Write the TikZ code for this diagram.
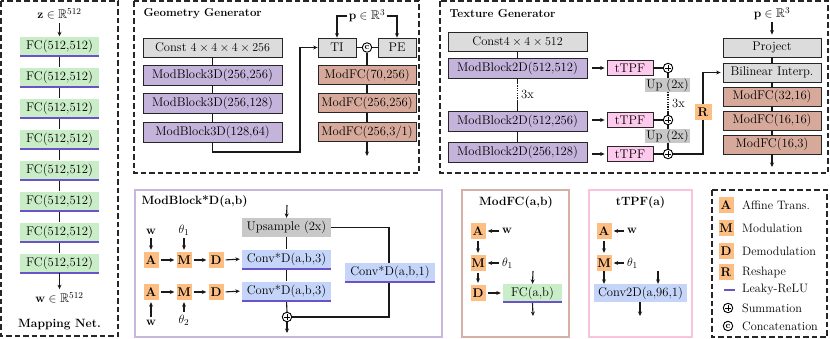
\documentclass[tikz,border=0pt]{standalone}
\usepackage{amssymb}
\usetikzlibrary{arrows.meta,calc}
\definecolor{fcc}{HTML}{C9EDC6}
\definecolor{reluc}{HTML}{6A52C8}
\definecolor{mbc}{HTML}{C4B3DA}
\definecolor{mfcc}{HTML}{D6A99B}
\definecolor{constc}{HTML}{DCDCDC}
\definecolor{upc}{HTML}{C8C8C8}
\definecolor{tpfc}{HTML}{FDC9EC}
\definecolor{convc}{HTML}{C5D5F9}
\definecolor{orc}{HTML}{FDBE84}
\definecolor{mbframe}{HTML}{C8B6DC}
\definecolor{mfcframe}{HTML}{D4B0A6}
\definecolor{tpfframe}{HTML}{F8C3DF}
\newcommand\fsz{\fontsize{12.6}{14}\selectfont}
\newcommand\fsl{\fontsize{12.2}{13}\selectfont}
\newcommand\fst{\fontsize{12}{14}\selectfont\bfseries}
\tikzset{
  every node/.style={font=\fsz},
  box/.style={draw=black!85, line width=0.8pt, minimum height=19pt, inner sep=0pt},
  constb/.style={box, fill=constc},
  mbb/.style={box, fill=mbc, minimum height=20pt},
  mfcb/.style={box, fill=mfcc},
  tpfb/.style={box, fill=tpfc, minimum width=46pt, minimum height=15pt},
  fcb/.style={fill=fcc, minimum height=19pt, inner sep=0pt},
  convb/.style={fill=convc, minimum height=19pt, inner sep=0pt},
  upb/.style={fill=upc, inner sep=0pt},
  lett/.style={fill=orc, minimum width=15pt, minimum height=16pt, inner sep=0pt, font=\fsz\bfseries},
  conn/.style={draw=black!90, line width=1.1pt},
  arr/.style={conn, -{Stealth[length=4.5pt,width=4pt]}},
  sarr/.style={arr, shorten <=2pt, shorten >=2pt},
  dframe/.style={draw=black!85, line width=1.3pt, dash pattern=on 5.5pt off 3pt},
  relu/.style={draw=reluc, line width=2.4pt},
  sumc/.style={circle, draw=black, line width=0.9pt, fill=white, minimum size=9.5pt, inner sep=0pt,
    path picture={\draw[line width=0.9pt] ([yshift=-1.5pt]path picture bounding box.north) -- ([yshift=1.5pt]path picture bounding box.south)
      ([xshift=1.5pt]path picture bounding box.west) -- ([xshift=-1.5pt]path picture bounding box.east);}},
  catc/.style={circle, draw=black, line width=0.9pt, fill=white, minimum size=9.5pt, inner sep=0pt, font=\fontsize{9}{9}\selectfont\bfseries},
  dots/.style={conn, dash pattern=on 1.2pt off 1.2pt},
}
\begin{document}
\begin{tikzpicture}[x=1pt,y=-1pt]
\useasboundingbox (0,0) rectangle (830,338);

% ---------------- Mapping network
\draw[dframe] (1,1) rectangle (118,336);
\node (zin) at (59.5,14) {$\mathbf{z}\in\mathbb{R}^{512}$};
\foreach \i in {0,...,7} {
  \node[fcb, minimum width=79pt] (fc\i) at (59.5,{46+31*\i}) {FC(512,512)};
}
\foreach \i [evaluate=\i as \j using int(\i+1)] in {0,...,6} {
  \draw[conn] (fc\i.south) -- (fc\j.north);
}
\foreach \i in {0,...,7} { \draw[relu] (fc\i.south west) -- (fc\i.south east); }
\draw[arr] (zin.south) -- (fc0.north);
\node (wout) at (59.5,298) {$\mathbf{w}\in\mathbb{R}^{512}$};
\draw[arr] (fc7.south) -- (wout.north);
\node[font=\fst] (mapt) at (59.5,325) {Mapping Net.};

% ---------------- Geometry generator
\draw[dframe] (134,1) rectangle (419,173);
\node[font=\fontsize{11.5}{13}\selectfont\bfseries, anchor=west] (geot) at (140,14) {Geometry Generator};
\node[constb, minimum width=139pt] (gc) at (212.5,47.5) {Const $4\times4\times4\times256$};
\node[mbb, minimum width=139pt] (g1) at (212.5,75) {ModBlock3D(256,256)};
\node[mbb, minimum width=139pt] (g2) at (212.5,103) {ModBlock3D(256,128)};
\node[mbb, minimum width=139pt] (g3) at (212.5,132) {ModBlock3D(128,64)};
\draw[conn] (gc.south) -- (g1.north);
\draw[conn] (g1.south) -- (g2.north);
\draw[conn] (g2.south) -- (g3.north);
\node[constb, minimum width=38pt] (ti) at (337,47.5) {TI};
\node[constb, minimum width=38pt] (pe) at (397,47.5) {PE};
\node[catc] (cat) at (367,47.5) {c};
\draw[conn] (ti.east) -- (cat.west);
\draw[conn] (cat.east) -- (pe.west);
\coordinate (gk) at (300,152);
\draw[arr] (g3.south) |- (gk) |- (ti.west);
\node[inner sep=1.5pt] (pg) at (367,16) {$\mathbf{p}\in\mathbb{R}^3$};
\draw[arr] (pg.west) -| (ti.north);
\draw[arr] (pg.east) -| (pe.north);
\node[mfcb, minimum width=98pt] (gf1) at (367,75) {ModFC(70,256)};
\node[mfcb, minimum width=98pt] (gf2) at (367,103) {ModFC(256,256)};
\node[mfcb, minimum width=98pt] (gf3) at (367,132) {ModFC(256,3/1)};
\draw[conn] (cat.south) -- (gf1.north);
\draw[conn] (gf1.south) -- (gf2.north);
\draw[conn] (gf2.south) -- (gf3.north);
\coordinate (gout) at (367,156);
\draw[arr] (gf3.south) -- (gout);

% ---------------- Texture generator
\draw[dframe] (440,1) rectangle (828,173);
\node[font=\fontsize{11.5}{13}\selectfont\bfseries, anchor=west] (text) at (446,14) {Texture Generator};
\node[constb, minimum width=139pt] (tc) at (517.5,42) {Const$4\times4\times512$};
\node[mbb, minimum width=139pt] (t1) at (517.5,68) {ModBlock2D(512,512)};
\node[mbb, minimum width=139pt] (t2) at (517.5,121) {ModBlock2D(512,256)};
\node[mbb, minimum width=139pt] (t3) at (517.5,152) {ModBlock2D(256,128)};
\draw[conn] (tc.south) -- (t1.north);
\coordinate (ta) at (517.5,83);
\coordinate (tb) at (517.5,101);
\draw[conn] (t1.south) -- (ta);
\draw[dots] (ta) -- (tb);
\draw[conn] (tb) -- (t2.north);
\node[anchor=west, inner sep=1pt] (tx3) at (520,94) {3x};
\draw[conn] (t2.south) -- (t3.north);

\node[tpfb] (p1) at (630,68) {tTPF};
\node[tpfb] (p2) at (630,120) {tTPF};
\node[tpfb] (p3) at (630,154) {tTPF};
\draw[arr] ($(t1.east)+(5,0)$) -- ($(p1.west)+(-2,0)$);
\draw[arr] ($(t2.east)+(5,-1)$) -- ($(p2.west)+(-2,0)$);
\draw[arr] ($(t3.east)+(5,2)$) -- ($(p3.west)+(-2,0)$);
\node[sumc] (s1) at (668,68) {};
\node[sumc] (s2) at (668,120) {};
\node[sumc] (s3) at (668,154) {};
\draw[conn] (p1.east) -- (s1.west);
\draw[conn] (p2.east) -- (s2.west);
\draw[conn] (p3.east) -- (s3.west);
\coordinate (ua) at (668,92);
\coordinate (ub) at (668,111);
\draw[conn] (s1.south) -- (ua);
\draw[dots] (ua) -- (ub);
\draw[conn] (ub) -- (s2.north);
\draw[conn] (s2.south) -- (s3.north);
\node[upb, minimum width=45pt, minimum height=14pt] (u1) at (667.5,85) {Up (2x)};
\node[upb, minimum width=45pt, minimum height=14pt] (u2) at (667.5,136) {Up (2x)};
\node[anchor=west, inner sep=1pt] (ux3) at (671,103) {3x};

\node[constb, minimum width=98pt] (proj) at (772,47.5) {Project};
\node[constb, minimum width=98pt] (bil) at (772,72.5) {Bilinear Interp.};
\node[mfcb, minimum width=98pt] (tf1) at (772,96.5) {ModFC(32,16)};
\node[mfcb, minimum width=98pt] (tf2) at (772,120.5) {ModFC(16,16)};
\node[mfcb, minimum width=98pt] (tf3) at (772,144.5) {ModFC(16,3)};
\draw[conn] (proj.south) -- (bil.north);
\draw[conn] (bil.south) -- (tf1.north);
\draw[conn] (tf1.south) -- (tf2.north);
\draw[conn] (tf2.south) -- (tf3.north);
\coordinate (tout) at (772,167);
\draw[arr] (tf3.south) -- (tout);
\node[inner sep=1.5pt] (pt) at (772,14) {$\mathbf{p}\in\mathbb{R}^3$};
\draw[arr] (pt.south) -- ($(proj.north)+(0,-3)$);
\coordinate (rt) at (703,72.5);
\draw[arr] (s3.east) -| (rt) -- ($(bil.west)+(-2,0)$);
\node[lett, minimum width=17pt] (rbox) at (703,112) {R};

% ---------------- ModBlock*D detail
\draw[draw=mbframe, line width=1.3pt] (135,190) rectangle (442,337);
\node[font=\fst, anchor=west] (mbt) at (138,202) {ModBlock*D(a,b)};
\node[upb, minimum width=89pt, minimum height=19pt] (ups) at (286.5,227.5) {Upsample (2x)};
\node[convb, minimum width=89pt] (cv1) at (286.5,259) {Conv*D(a,b,3)};
\node[convb, minimum width=89pt] (cv2) at (286.5,291) {Conv*D(a,b,3)};
\node[sumc] (bs) at (287,317) {};
\coordinate (bin) at (287,205);
\coordinate (bout) at (287,333);
\coordinate (sk) at (389,227.5);
\draw[arr] (bin) -- (ups.north);
\draw[conn] (ups.south) -- (cv1.north);
\draw[conn] (cv1.south) -- (cv2.north);
\draw[conn] (cv2.south) -- (bs.north);
\draw[arr] (bs.south) -- (bout);
\draw[conn] (ups.east) -- (sk) |- (bs.east);
\node[convb, minimum width=90pt] (cv3) at (390,272) {Conv*D(a,b,1)};
\draw[relu] (cv1.south west) -- (cv1.south east);
\draw[relu] (cv2.south west) -- (cv2.south east);
\draw[relu] (cv3.south west) -- (cv3.south east);
\node[lett] (a1) at (151,260) {A};
\node[lett] (m1) at (184,260) {M};
\node[lett] (d1) at (216,260) {D};
\node[lett] (a2) at (151,292) {A};
\node[lett] (m2) at (184,292) {M};
\node[lett] (d2) at (216,292) {D};
\draw[sarr] (a1.east) -- (m1.west);
\draw[sarr] (m1.east) -- (d1.west);
\draw[sarr] (d1.east) -- (cv1.west);
\draw[sarr] (a2.east) -- (m2.west);
\draw[sarr] (m2.east) -- (d2.west);
\draw[sarr] (d2.east) -- (cv2.west);
\node[inner sep=1pt] (w1) at (151,232) {$\mathbf{w}$};
\node[inner sep=1pt] (th1) at (184,230) {$\theta_1$};
\node[inner sep=1pt] (w2) at (151,323) {$\mathbf{w}$};
\node[inner sep=1pt] (th2) at (184,320) {$\theta_2$};
\draw[sarr] (w1.south) -- (a1.north);
\draw[sarr] (th1.south) -- (m1.north);
\draw[sarr] (w2.north) -- (a2.south);
\draw[sarr] (th2.north) -- (m2.south);

% ---------------- ModFC detail
\draw[draw=mfcframe, line width=1.3pt] (462,190) rectangle (569,337);
\node[font=\fst] (mft) at (516,203) {ModFC(a,b)};
\node[lett] (fa) at (478,231) {A};
\node[lett] (fm) at (478,263) {M};
\node[lett] (fd) at (478,293) {D};
\node[anchor=west, inner sep=1pt] (fw) at (501,231) {$\mathbf{w}$};
\node[anchor=west, inner sep=1pt] (fth) at (501,263) {$\theta_1$};
\draw[sarr] (fw.west) -- (fa.east);
\draw[sarr] (fth.west) -- (fm.east);
\draw[sarr] (fa.south) -- (fm.north);
\draw[sarr] (fm.south) -- (fd.north);
\node[fcb, minimum width=59pt, minimum height=18pt] (ffc) at (532.5,293) {FC(a,b)};
\draw[relu] (ffc.south west) -- (ffc.south east);
\draw[sarr] (fd.east) -- (ffc.west);
\coordinate (fin) at (533,271);
\coordinate (fout) at (533,316);
\draw[arr] (fin) -- (ffc.north);
\draw[arr] ($(ffc.south)+(0,1)$) -- (fout);

% ---------------- tTPF detail
\draw[draw=tpfframe, line width=1.3pt] (589,190) rectangle (692,337);
\node[font=\fst] (tpt) at (640.5,203) {tTPF(a)};
\node[lett] (pa) at (604,231) {A};
\node[lett] (pm) at (604,263) {M};
\node[anchor=west, inner sep=1pt] (pw) at (626,231) {$\mathbf{w}$};
\node[anchor=west, inner sep=1pt] (pth) at (626,263) {$\theta_1$};
\draw[sarr] (pw.west) -- (pa.east);
\draw[sarr] (pth.west) -- (pm.east);
\draw[sarr] (pa.south) -- (pm.north);
\node[convb, minimum width=93pt, minimum height=18pt] (pcv) at (640.5,293) {Conv2D(a,96,1)};
\draw[arr] (pm.south) -- (pm.south |- pcv.north);
\coordinate (pin) at (658,271);
\draw[arr] (pin) -- (pin |- pcv.north);
\coordinate (pout) at (640,316);
\draw[arr] (pout |- pcv.south) -- (pout);

% ---------------- Legend
\draw[dframe] (712,190) rectangle (827,337);
\node[lett] (la) at (726,205) {A};
\node[lett] (lm) at (726,228) {M};
\node[lett] (ld) at (726,251) {D};
\node[lett] (lr) at (726,272) {R};
\node[sumc] (ls) at (728,308) {};
\node[catc] (lc) at (728,326) {c};
\coordinate (lra) at (724,290);
\coordinate (lrb) at (735,290);
\draw[relu] (lra) -- (lrb);
\node[anchor=west, font=\fsl, inner sep=0pt] at (742,205) {Affine Trans.};
\node[anchor=west, font=\fsl, inner sep=0pt] at (742,228) {Modulation};
\node[anchor=west, font=\fsl, inner sep=0pt] at (742,251) {Demodulation};
\node[anchor=west, font=\fsl, inner sep=0pt] at (742,272) {Reshape};
\node[anchor=west, font=\fsl, inner sep=0pt] at (742,290) {Leaky-ReLU};
\node[anchor=west, font=\fsl, inner sep=0pt] at (742,308) {Summation};
\node[anchor=west, font=\fsl, inner sep=0pt] at (742,326) {Concatenation};
\end{tikzpicture}
\end{document}
